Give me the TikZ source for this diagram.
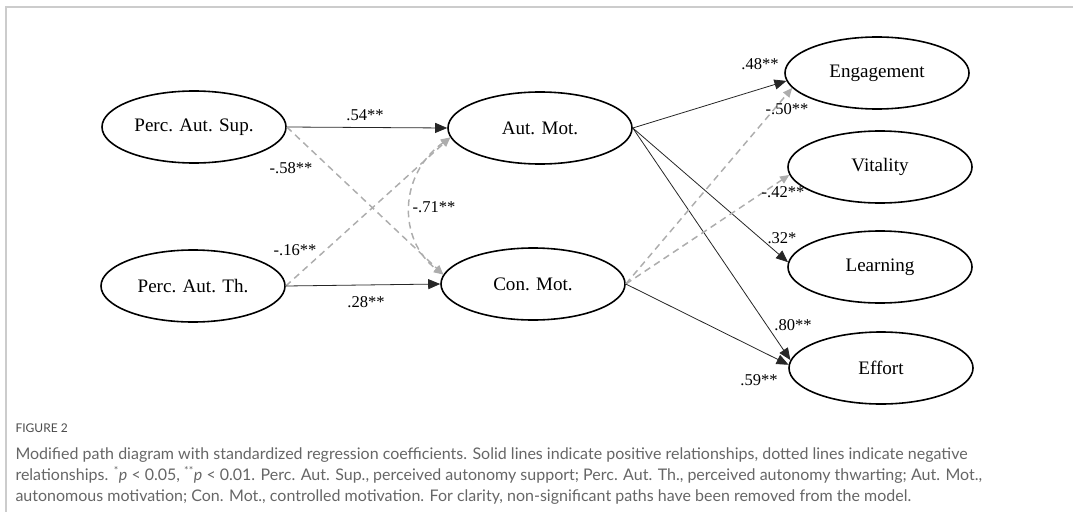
\documentclass[tikz,border=0pt]{standalone}
\usepackage{fontspec}
\setmainfont{Liberation Serif}
\newfontfamily\capfont{Lato}
\usetikzlibrary{shapes.geometric,arrows.meta}

\tikzset{every picture/.style={line width=0.75pt}}
\tikzset{
  latent/.style={ellipse,draw,line width=1.2pt,minimum width=138pt,minimum height=54pt,inner sep=0pt,font=\fontsize{14.3}{17}\selectfont},
  coef/.style={inner sep=0.75pt,font=\fontsize{12.4}{14}\selectfont},
  pospath/.style={draw=black!85,line width=0.6pt,-{Triangle[length=9pt,width=7.5pt]}},
  negpath/.style={draw=black!32,line width=1.1pt,dash pattern=on 5pt off 3.5pt,-{Triangle[length=7pt,width=6pt]}},
  corrpath/.style={negpath,{Triangle[length=7pt,width=6pt]}-{Triangle[length=7pt,width=6pt]}},
}

\begin{document}
\begin{tikzpicture}[x=0.75pt,y=0.75pt,yscale=-1,xscale=1]
\useasboundingbox (0,0) rectangle (1073,517);

%Frame
\draw [black!20,line width=1.5pt] (1073,7) -- (6,7) -- (6,512) ;

%Shape: Ellipse
\node (pas) [latent] at (194,127) {Perc. Aut. Sup.};
\node (pat) [latent] at (193,286) {Perc. Aut. Th.};
\node (am) [latent] at (540,128) {Aut. Mot.};
\node (cm) [latent] at (533,284) {Con. Mot.};
\node (eng) [latent] at (877,73) {Engagement};
\node (vit) [latent] at (880,167) {Vitality};
\node (lea) [latent] at (880,267) {Learning};
\node (eff) [latent] at (881,368) {Effort};

%Paths
\draw [pospath] (pas.east) -- (am.west) ;
\draw [negpath] (pas.east) -- (cm.174) ;
\draw [negpath] (pat.east) -- (am.186) ;
\draw [pospath] (pat.east) -- (cm.west) ;
\draw [corrpath] (am.186) .. controls (398,175) and (398,240) .. (cm.174) ;
\draw [pospath] (am.east) -- (eng.185) ;
\draw [pospath] (am.east) -- (lea.177) ;
\draw [pospath] (am.east) -- (eff.175) ;
\draw [negpath] (cm.east) -- (eng.190) ;
\draw [negpath] (cm.east) -- (vit.185) ;
\draw [pospath] (cm.east) -- (eff.178) ;

% Text Node
\node (l54) [coef] at (365,115) {.54**};
\node (l58) [coef] at (291,168) {-.58**};
\node (l16) [coef] at (295,250) {-.16**};
\node (l28) [coef] at (366,302) {.28**};
\node (l71) [coef] at (434,207) {-.71**};
\node (l48) [coef] at (760,64) {.48**};
\node (l50) [coef] at (787,109) {-.50**};
\node (l42) [coef] at (783,192) {-.42**};
\node (l32) [coef] at (782,238) {.32*};
\node (l80) [coef] at (793,325) {.80**};
\node (l59) [coef] at (759,380) {.59**};

% Caption
\node (figlabel) [anchor=west,inner sep=0pt,text=black!70,font=\capfont\fontsize{9}{10}\selectfont] at (15,428) {FIGURE 2};
\node (caption) [anchor=north west,align=left,inner sep=0pt,text=black!60,font=\capfont\fontsize{12}{15.75}\selectfont] at (15,447) {Modified path diagram with standardized regression coefficients. Solid lines indicate positive relationships, dotted lines indicate negative\\relationships. \textsuperscript{*}\textit{p} < 0.05, \textsuperscript{**}\textit{p} < 0.01. Perc. Aut. Sup., perceived autonomy support; Perc. Aut. Th., perceived autonomy thwarting; Aut. Mot.,\\autonomous motivation; Con. Mot., controlled motivation. For clarity, non-significant paths have been removed from the model.};

\end{tikzpicture}
\end{document}
